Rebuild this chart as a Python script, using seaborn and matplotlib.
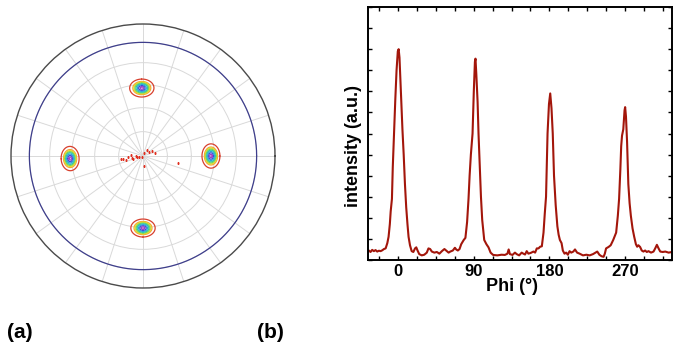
import numpy as np
import pandas as pd
import matplotlib
matplotlib.use("Agg")
import matplotlib.pyplot as plt
import seaborn as sns

# ---- (b) phi scan ----
phi = [-35, -33, -31, -29, -27, -25, -23, -21, -19, -17, -15, -13, -11.5, -10, -9, -7.5,
       -6.5, -5, -3.5, -2, -0.5, 0.5, 1.5, 2.5, 3.6, 5, 6.5, 8, 9.5, 11, 12.3, 14, 16, 18,
       20, 21.5, 23, 25, 28, 31, 34, 36, 38, 40, 43, 46, 49, 52, 55, 57, 60, 62, 65, 67.5,
       69, 71, 73, 75, 78, 80, 82, 83.7, 85, 86.5, 88.5, 90, 91.3, 92, 93, 94.5, 95.6, 97,
       98.5, 100, 102.4, 105, 107.5, 110, 113, 118, 123, 127, 130, 131.5, 133, 136, 139,
       141, 144, 147, 149, 151, 153, 155, 158, 161, 163, 165, 167, 169, 171, 173, 174.5,
       176, 177.8, 179.5, 181, 182.5, 184, 185.5, 187.5, 189.5, 191, 192.5, 194.5, 196,
       198, 200, 202, 204, 206, 208.5, 210.5, 213, 216, 220, 224, 228, 232, 235, 237,
       239.5, 242, 244.5, 246, 247.5, 250.5, 253, 256, 259.5, 261.5, 263, 264.5, 265.5,
       266.5, 268, 269.5, 270.2, 271.2, 272.5, 274, 275.5, 277, 279, 281, 283, 284.5, 286,
       288, 290, 292, 294, 296, 298, 301, 304, 306, 308, 310, 312, 315, 318, 322, 326]
intensity = [0.45, 0.38, 0.48, 0.42, 0.47, 0.40, 0.44, 0.42, 0.46, 0.52, 0.55, 0.80, 1.10,
             1.70, 2.30, 2.90, 4.40, 6.0, 7.6, 9.0, 9.9, 10.0, 9.6, 8.6, 7.6, 6.2, 5.0, 3.6,
             2.5, 1.7, 1.1, 0.7, 0.42, 0.38, 0.55, 0.60, 0.45, 0.28, 0.22, 0.25, 0.35, 0.55,
             0.52, 0.40, 0.35, 0.38, 0.30, 0.42, 0.52, 0.45, 0.35, 0.40, 0.45, 0.58, 0.50,
             0.45, 0.52, 0.75, 0.95, 1.05, 1.8, 2.9, 4.0, 5.0, 6.0, 8.0, 9.4, 9.55, 8.8, 7.5,
             6.0, 4.5, 3.0, 1.9, 0.95, 0.75, 0.60, 0.35, 0.24, 0.22, 0.25, 0.24, 0.30, 0.50,
             0.28, 0.24, 0.35, 0.28, 0.22, 0.35, 0.30, 0.26, 0.42, 0.30, 0.34, 0.40, 0.35,
             0.55, 0.55, 0.63, 0.65, 1.3, 2.2, 3.0, 6.0, 7.4, 7.9, 7.2, 6.0, 4.0, 2.6, 1.6,
             1.2, 0.95, 0.80, 0.45, 0.30, 0.35, 0.25, 0.42, 0.35, 0.40, 0.50, 0.35, 0.30,
             0.22, 0.25, 0.22, 0.28, 0.35, 0.40, 0.25, 0.18, 0.15, 0.30, 0.55, 0.62, 0.70,
             0.95, 1.3, 2.1, 2.9, 4.3, 5.4, 5.9, 6.2, 7.1, 7.25, 6.8, 5.6, 3.6, 2.7, 2.1, 1.5,
             1.1, 0.75, 0.63, 0.70, 0.62, 0.45, 0.40, 0.45, 0.38, 0.42, 0.35, 0.40, 0.55,
             0.72, 0.55, 0.40, 0.38, 0.40, 0.35, 0.38]
phi_major = [0, 90, 180, 270]

# ---- (a) pole figure ----
spot_phi = [0, 91, 182, 270]
spot_psi = [42.7, 42.7, 46.0, 45.4]
# contour levels, outer (red) to inner (purple); half sizes in projected units
ring_colors = ['#d8402e', '#f2a33a', '#e6dc2a', '#86d84a', '#33c9a6', '#2aa6dc', '#3a52d6', '#a23cc4']
ring_rad = [0.068, 0.050, 0.044, 0.038, 0.032, 0.025, 0.017, 0.009]
ring_tan = [0.092, 0.068, 0.060, 0.052, 0.044, 0.034, 0.024, 0.012]
speck_phi = [188.4, 187.8, 193.2, 182.7, 175.4, 188.6, 198.8, 180, 192.8, 190.7, 225,
             64.3, 58.3, 34.3, 31.4, 12.7, 275.7, 348.3]
speck_psi = [13.8, 12.2, 10.7, 9.0, 7.5, 7.0, 6.2, 4.3, 3.5, 2.3, 1.1,
             1.8, 4.3, 4.6, 6.2, 7.5, 6.1, 22.3]
psi_grid = [15, 30, 45, 60, 75]
psi_limit = 75


def proj(psi_deg):
    # equal-area projection, psi = 90 maps to 1
    return np.sqrt(2) * np.sin(np.radians(np.asarray(psi_deg, dtype=float)) / 2)


sns.set_theme(style="ticks")
plt.rcParams['font.family'] = ['Liberation Sans', 'DejaVu Sans']
plt.rcParams['text.color'] = 'black'
plt.rcParams['axes.labelcolor'] = 'black'
plt.rcParams['xtick.color'] = 'black'
plt.rcParams['ytick.color'] = 'black'

fig = plt.figure(figsize=(6.77, 3.43), dpi=100)

# Panel (a)
ax_a = fig.add_axes([11 / 677, 55 / 343, 264 / 677, 264 / 343], projection='polar')
ax_a.set_ylim(0, 1)
ax_a.set_thetagrids(np.arange(0, 360, 18), labels=[])
ax_a.set_rgrids(proj(psi_grid), labels=[])
ax_a.grid(color='#d9d9d9', lw=0.7)
ax_a.spines['polar'].set_color('#4a4a4a')
ax_a.spines['polar'].set_linewidth(1.0)

circ = np.linspace(0, 2 * np.pi, 400)
ax_a.plot(circ, np.full_like(circ, proj(psi_limit)), color='#3e3e8c', lw=0.9)

t = np.linspace(0, 2 * np.pi, 80)
for p, s in zip(spot_phi, spot_psi):
    th0 = np.radians(p)
    r0 = proj(s)
    cx, cy = r0 * np.cos(th0), r0 * np.sin(th0)
    for col, a, b in zip(ring_colors, ring_rad, ring_tan):
        x = cx + a * np.cos(t) * np.cos(th0) - b * np.sin(t) * np.sin(th0)
        y = cy + a * np.cos(t) * np.sin(th0) + b * np.sin(t) * np.cos(th0)
        ax_a.plot(np.arctan2(y, x), np.hypot(x, y), color=col, lw=0.9)

ax_a.plot(np.radians(speck_phi), proj(speck_psi), ls='none', marker='s',
          ms=2.0, color='#e03020', mec='none')

# Panel (b)
ax_b = fig.add_axes([368 / 677, 83 / 343, 304 / 677, 253 / 343])
df = pd.DataFrame({'phi': phi, 'intensity': intensity})
sns.lineplot(data=df, x='phi', y='intensity', ax=ax_b, color='#a3160b', lw=1.5, sort=False)
ax_b.set_xlim(-36, 326)
ax_b.set_ylim(0, 12)
ax_b.set_xticks(phi_major)
ax_b.set_xticks(np.arange(-22.5, 326, 22.5), minor=True)
ax_b.set_xticklabels([str(v) for v in phi_major], fontsize=12, fontweight='bold')
ax_b.set_yticks(np.arange(0, 13, 1))
ax_b.set_yticklabels([])
ax_b.tick_params(which='both', direction='in', top=True, right=True,
                 length=3, width=1.0, color='black', pad=3)
for sp in ax_b.spines.values():
    sp.set_linewidth(1.4)
    sp.set_color('black')
ax_b.set_xlabel('Phi (°)', fontsize=13, fontweight='bold')
ax_b.set_ylabel('intensity (a.u.)', fontsize=13, fontweight='bold')
ax_b.xaxis.set_label_coords(0.474, -0.072)
ax_b.yaxis.set_label_coords(-0.021, 0.45)

fig.text(7 / 677, 1 - 338 / 343, '(a)', fontsize=15, fontweight='bold', va='baseline')
fig.text(257 / 677, 1 - 338 / 343, '(b)', fontsize=15, fontweight='bold', va='baseline')

fig.savefig('out.png', dpi=100, facecolor='white')
